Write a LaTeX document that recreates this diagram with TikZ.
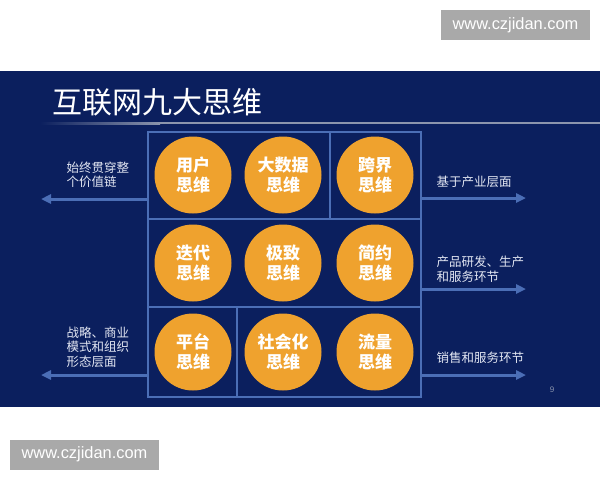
\documentclass[tikz,border=0pt]{standalone}
\usepackage{fontspec}
\setmainfont{Liberation Sans}
\newfontfamily\cjk{Noto Sans CJK SC}
\usetikzlibrary{arrows.meta}
\definecolor{navy}{HTML}{0B1F5E}
\definecolor{gridblue}{HTML}{4B6EB6}
\definecolor{disc}{HTML}{EFA22E}
\definecolor{stampgray}{HTML}{A9A9A9}
\definecolor{rulegray}{HTML}{8C95AD}
\definecolor{softwhite}{HTML}{E2E6F2}

\begin{document}
\begin{tikzpicture}[x=1pt, y=-1pt,
  think/.style={circle, fill=disc, minimum size=77pt, inner sep=0pt, align=center,
    text=white, font=\cjk\bfseries\fontsize{17}{20}\selectfont},
  side/.style={anchor=west, align=left, text=softwhite,
    font=\cjk\fontsize{12.5}{14.5}\selectfont},
  flow/.style={gridblue, line width=3pt, -{Triangle[length=10pt,width=9pt]}},
  cell/.style={draw=gridblue, line width=1.5pt},
  stamp/.style={fill=stampgray, text=white, inner sep=0pt, minimum width=149pt,
    minimum height=30pt, font=\fontsize{16.4}{16.4}\selectfont}]
\def\ca{193};
\def\cb{283};
\def\cc{375};
\def\ra{175};
\def\rb{263};
\def\rc{352};

\useasboundingbox (0,0) rectangle (600,480);
\fill[navy] (0,71) rectangle (600,407);

% title and its rule
\node[anchor=west, text=white, font=\cjk\fontsize{30}{30}\selectfont] (title) at (49,102) {互联网九大思维};
\shade[left color=navy, right color=rulegray] (40,122) rectangle (160,124);
\fill[rulegray] (160,122) rectangle (600,124);

% grid
\node[cell, anchor=north west, minimum width=273pt, minimum height=265pt] (grid) at (147,131) {};
\draw[cell] (147,219) -- (420,219);
\draw[cell] (147,307) -- (420,307);
\draw[cell] (330,131) -- (330,219);
\draw[cell] (237,307) -- (237,396);

\node[think] (user) at (\ca,\ra) {用户\\思维};
\node[think] (bigdata) at (\cb,\ra) {大数据\\思维};
\node[think] (cross) at (\cc,\ra) {跨界\\思维};
\node[think] (iterate) at (\ca,\rb) {迭代\\思维};
\node[think] (extreme) at (\cb,\rb) {极致\\思维};
\node[think] (simple) at (\cc,\rb) {简约\\思维};
\node[think] (platform) at (\ca,\rc) {平台\\思维};
\node[think] (social) at (\cb,\rc) {社会化\\思维};
\node[think] (traffic) at (\cc,\rc) {流量\\思维};

% arrows out of the grid
\coordinate (leftA) at (41,199);
\coordinate (leftC) at (41,375);
\coordinate (rightA) at (526,198);
\coordinate (rightB) at (526,289);
\coordinate (rightC) at (526,375);
\draw[flow] (grid.west |- leftA) -- (leftA);
\draw[flow] (grid.west |- leftC) -- (leftC);
\draw[flow] (grid.east |- rightA) -- (rightA);
\draw[flow] (grid.east |- rightB) -- (rightB);
\draw[flow] (grid.east |- rightC) -- (rightC);

\node[side] (chain) at (63,175) {始终贯穿整\\个价值链};
\node[side] (strategy) at (63,347) {战略、商业\\模式和组织\\形态层面};
\node[side] (industry) at (433,182) {基于产业层面};
\node[side] (product) at (433,269) {产品研发、生产\\和服务环节};
\node[side] (sales) at (433,358) {销售和服务环节};

\node[text=rulegray, font=\fontsize{8}{8}\selectfont] (page) at (552,390) {9};

% watermarks
\node[stamp] (markTop) at (515.5,25) {www.czjidan.com};
\node[stamp] (markBottom) at (84.5,454.5) {www.czjidan.com};
\end{tikzpicture}
\end{document}
